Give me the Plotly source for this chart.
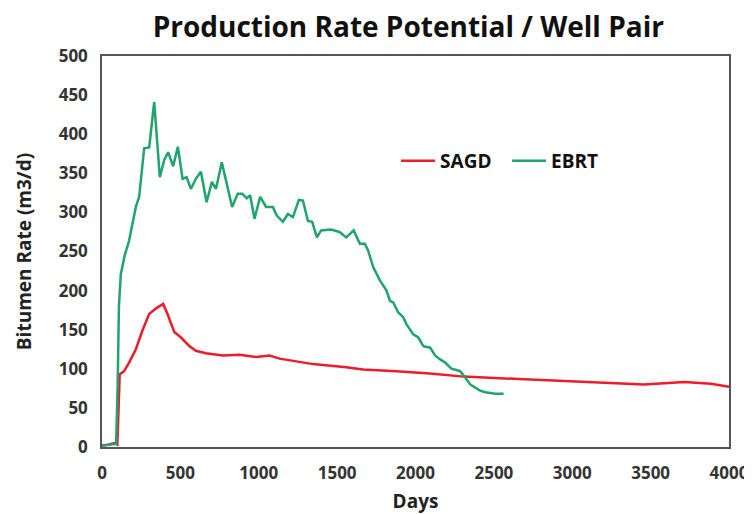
import plotly.graph_objects as go

# ---- data ----
ebrt_days = [0, 40, 90, 100, 108, 120, 145, 173, 216, 237, 269, 301, 333, 369, 397,
             422, 454, 484, 514, 540, 567, 599, 631, 667, 701, 727, 764, 791, 830,
             866, 894, 924, 945, 973, 1009, 1047, 1090, 1115, 1154, 1186, 1218, 1256,
             1282, 1314, 1341, 1371, 1398, 1462, 1515, 1558, 1606, 1645, 1677, 1698,
             1730, 1773, 1815, 1837, 1858, 1890, 1922, 1942, 1986, 2018, 2050, 2093,
             2125, 2157, 2189, 2231, 2285, 2317, 2349, 2381, 2413, 2445, 2509, 2562]
ebrt_rate = [2, 3, 4, 80, 180, 221, 245, 264, 307, 320, 382, 383, 441, 345, 367,
             377, 359, 384, 343, 345, 330, 343, 352, 313, 339, 330, 364, 341, 307,
             324, 324, 318, 322, 292, 320, 307, 307, 296, 288, 298, 294, 316,
             315, 289, 288, 268, 277, 278, 275, 268, 277, 260, 260, 251,
             230, 213, 200, 187, 185, 172, 166, 157, 144, 140, 129, 127,
             117, 112, 108, 100, 97, 89, 80, 76, 72, 70, 68, 68]

sagd_days = [0, 40, 77, 98, 113, 141, 173, 216, 258, 301, 343, 390, 418, 461, 504,
             557, 599, 663, 770, 877, 983, 1069, 1133, 1346, 1558, 1666, 1878, 2093,
             2306, 2541, 2861, 3181, 3458, 3715, 3885, 4000]
sagd_rate = [2, 3, 5, 3, 93, 97, 108, 125, 149, 170, 177, 183, 170, 147, 140,
             129, 123, 120, 117, 118, 115, 117, 113, 106, 102, 99, 97, 94,
             90, 88, 85, 82, 80, 83, 81, 77]

x_ticks = [0, 500, 1000, 1500, 2000, 2500, 3000, 3500, 4000]
y_ticks = [0, 50, 100, 150, 200, 250, 300, 350, 400, 450, 500]

RED = "#ee1c2b"
GREEN = "#1fa56c"
FONT = "Open Sans"

fig = go.Figure()
fig.add_trace(go.Scatter(x=sagd_days, y=sagd_rate, mode="lines", name="SAGD",
                         line=dict(color=RED, width=2.5)))
fig.add_trace(go.Scatter(x=ebrt_days, y=ebrt_rate, mode="lines", name="EBRT",
                         line=dict(color=GREEN, width=2.5)))

# page body has an 8px margin, so the figure is sized to fit the 752x514 window
fig.update_layout(
    width=744, height=506,
    margin=dict(l=94, r=23, t=48, b=67),
    paper_bgcolor="white", plot_bgcolor="white",
    font=dict(family=FONT, color="#222222"),
    title=dict(text="Production Rate Potential / Well Pair",
               font=dict(family=FONT, size=28, weight="bold", color="#111111"),
               x=0.538, xanchor="center", y=0.962, yanchor="middle"),
    legend=dict(orientation="h", x=0.469, xanchor="left", y=0.732, yanchor="middle",
                font=dict(family=FONT, size=19, weight="bold", color="#111111"),
                bgcolor="rgba(0,0,0,0)", itemwidth=34,
                entrywidth=62, entrywidthmode="pixels"),
    xaxis=dict(range=[0, 4000], tickvals=x_ticks, showgrid=False, zeroline=False,
               showline=True, mirror=True, linecolor="#555555", linewidth=1.5,
               ticks="", ticklabelstandoff=10, automargin=False,
               tickfont=dict(family=FONT, size=17, weight="bold", color="#333333"),
               title=dict(text="Days", standoff=16,
                          font=dict(family=FONT, size=19, weight="bold", color="#222222"))),
    yaxis=dict(range=[0, 500], tickvals=y_ticks, showgrid=False, zeroline=False,
               showline=True, mirror=True, linecolor="#555555", linewidth=1.5,
               ticks="", ticklabelstandoff=9, automargin=False,
               tickfont=dict(family=FONT, size=17, weight="bold", color="#333333"),
               title=dict(text="Bitumen Rate (m3/d)", standoff=22,
                          font=dict(family=FONT, size=19, weight="bold", color="#222222"))),
)

fig.write_html("out.html")
